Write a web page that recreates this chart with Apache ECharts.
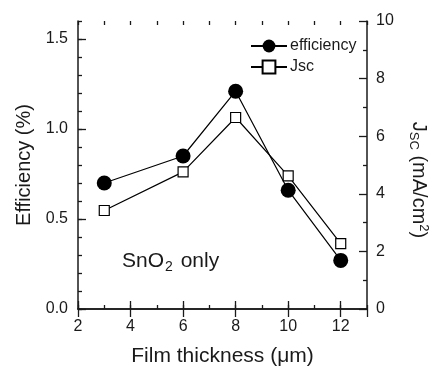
<!DOCTYPE html>
<html>
<head>
<meta charset="utf-8">
<script src="https://cdn.jsdelivr.net/npm/echarts@6/dist/echarts.min.js"></script>
<style>
  html, body { margin: 0; padding: 0; background: #fff; }
  #chart { width: 438px; height: 372px; }
</style>
</head>
<body>
<div id="chart"></div>
<script>
const thickness = [3, 6, 8, 10, 12];
const efficiency = [0.70, 0.85, 1.21, 0.66, 0.27];
const jsc = [3.42, 4.76, 6.65, 4.62, 2.27];

const font = "Liberation Sans, Arial, sans-serif";
const ink = "#1a1a1a";

const chart = echarts.init(document.getElementById("chart"));

function tickAxis(extra) {
  return Object.assign({
    type: "value",
    axisLine: { show: false },
    axisLabel: { show: false },
    splitLine: { show: false },
    axisTick: { inside: true, length: 4, lineStyle: { color: ink, width: 1.3 } }
  }, extra);
}

chart.setOption({
  animation: false,
  textStyle: { fontFamily: font },
  grid: { left: 78, right: 66, top: 21, bottom: 57 },
  legend: {
    orient: "vertical",
    left: 250,
    top: 38,
    padding: 0,
    itemWidth: 36,
    itemHeight: 16,
    itemGap: 5,
    textStyle: { fontSize: 16, lineHeight: 16, color: ink, fontFamily: font, padding: [0, 0, 0, -2] },
    data: ["efficiency", "Jsc"]
  },
  graphic: [
    {
      type: "text",
      left: 122,
      top: 251,
      style: {
        text: "SnO{sub|2} only",
        fontSize: 21,
        fontFamily: font,
        fill: ink,
        rich: {
          sub: { fontSize: 14, fontFamily: font, fill: ink, verticalAlign: "bottom", padding: [12, 2, 0, 1] }
        }
      }
    }
  ],
  xAxis: [
    {
      type: "value",
      position: "bottom",
      min: 2,
      max: 13,
      interval: 2,
      name: "Film thickness (\u03bcm)",
      nameLocation: "middle",
      nameGap: 37,
      nameTextStyle: { fontSize: 21, color: ink, fontFamily: font },
      axisLine: { lineStyle: { color: ink, width: 1.5 } },
      axisTick: { inside: true, length: 8, lineStyle: { color: ink, width: 1.3 } },
      axisLabel: { fontSize: 16, color: ink, margin: 10, showMaxLabel: false },
      splitLine: { show: false }
    },
    tickAxis({ position: "bottom", min: 2, max: 13, interval: 1 }),
    {
      type: "value",
      position: "top",
      min: 2,
      max: 13,
      interval: 2,
      axisLine: { lineStyle: { color: ink, width: 1.5 } },
      axisTick: { inside: true, length: 8, lineStyle: { color: ink, width: 1.3 } },
      axisLabel: { show: false },
      splitLine: { show: false }
    },
    tickAxis({ position: "top", min: 2, max: 13, interval: 1 })
  ],
  yAxis: [
    {
      type: "value",
      position: "left",
      min: 0,
      max: 1.6,
      interval: 0.5,
      name: "Efficiency (%)",
      nameLocation: "middle",
      nameGap: 44,
      nameTextStyle: { fontSize: 20, color: ink, fontFamily: font },
      axisLine: { show: true, lineStyle: { color: ink, width: 1.5 } },
      axisTick: { inside: true, length: 8, lineStyle: { color: ink, width: 1.3 } },
      axisLabel: {
        fontSize: 16, color: ink, margin: 10, showMaxLabel: false,
        formatter: function (v) { return v.toFixed(1); }
      },
      splitLine: { show: false }
    },
    {
      type: "value",
      position: "right",
      min: 0,
      max: 10,
      interval: 2,
      name: "J{sub|SC} (mA/cm{sup|2})",
      nameLocation: "middle",
      nameRotate: -90,
      nameGap: 40,
      nameTextStyle: {
        fontSize: 20, color: ink, fontFamily: font,
        padding: [0, 0, 0, 30],
        rich: {
          sub: { fontSize: 13, color: ink, fontFamily: font, verticalAlign: "bottom", padding: [10, 0, 0, 0] },
          sup: { fontSize: 13, color: ink, fontFamily: font, verticalAlign: "top", padding: [0, 0, 10, 0] }
        }
      },
      axisLine: { show: true, lineStyle: { color: ink, width: 1.5 } },
      axisTick: { inside: true, length: 8, lineStyle: { color: ink, width: 1.3 } },
      minorTick: { show: true, splitNumber: 2, length: 4, lineStyle: { color: ink, width: 1.3 } },
      axisLabel: { fontSize: 16, color: ink, margin: 9 },
      splitLine: { show: false }
    },
    tickAxis({ position: "left", min: 0, max: 1.6, interval: 0.1 })
  ],
  series: [
    {
      name: "efficiency",
      type: "line",
      xAxisIndex: 0,
      yAxisIndex: 0,
      data: thickness.map((x, i) => [x, efficiency[i]]),
      symbol: "circle",
      symbolSize: 15,
      z: 3,
      itemStyle: { color: "#000" },
      lineStyle: { color: "#000", width: 1.2 }
    },
    {
      name: "Jsc",
      type: "line",
      xAxisIndex: 0,
      yAxisIndex: 1,
      data: thickness.map((x, i) => [x, jsc[i]]),
      symbol: "rect",
      symbolSize: 10,
      z: 2,
      itemStyle: { color: "#fff", borderColor: "#000", borderWidth: 1.2 },
      lineStyle: { color: "#000", width: 1.2 }
    }
  ]
});
</script>
</body>
</html>
